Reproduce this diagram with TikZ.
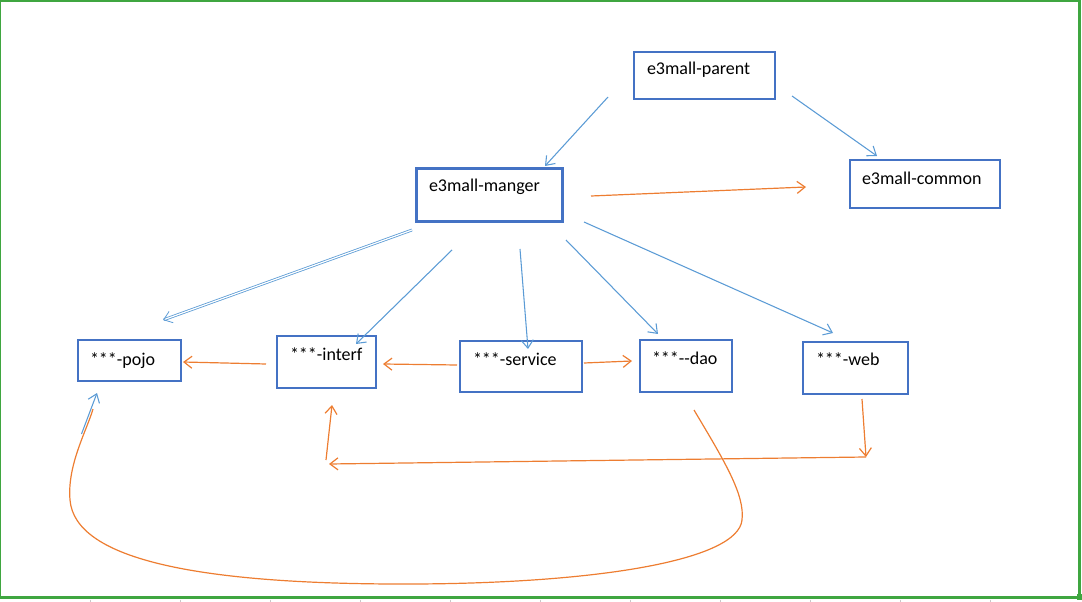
\documentclass[tikz,border=0pt]{standalone}
\usepackage{fontspec}
\setmainfont{Carlito}
\usetikzlibrary{arrows.meta,calc}
\definecolor{boxblue}{HTML}{4472C4}
\definecolor{lineblue}{HTML}{5B9BD5}
\definecolor{lineorange}{HTML}{ED7D31}
\definecolor{framegreen}{HTML}{3FA640}
\definecolor{tickgray}{HTML}{C8C8C8}
\begin{document}
\begin{tikzpicture}[x=0.75pt,y=-0.75pt,
  mod/.style={draw=boxblue, line width=1.5pt, outer sep=0pt, inner ysep=0pt,
    anchor=north west, align=left, font=\fontsize{13.5}{16}\selectfont},
  tip/.style={-{Straight Barb[length=6pt,width=9pt]}},
  bl/.style={draw=lineblue, line width=0.8pt, tip},
  og/.style={draw=lineorange, line width=0.9pt, tip},
  ogline/.style={draw=lineorange, line width=0.9pt}]
\useasboundingbox (0,0) rectangle (1082,602);
% frame
\draw[framegreen, line width=1.2pt] (0.5,598) -- (0.5,0.8) -- (1079,0.8);
\draw[framegreen, line width=2.4pt] (1079.5,0) -- (1079.5,597.5);
\draw[framegreen, line width=2.4pt] (0,597.5) -- (1080,597.5);
\fill[framegreen] (1077,594) rectangle (1082,600);
\foreach \t in {90,180,...,990} \draw[tickgray, line width=0.6pt] (\t,599.5) -- (\t,602);
% boxes
\node[mod, text width=86.25pt, inner xsep=9.75pt, text height=17.25pt, text depth=18pt] (par) at (634,52) {\mbox{e3mall-parent}};
\node[mod, line width=2.25pt, text width=90pt, inner xsep=9.75pt, text height=17.25pt, text depth=22.5pt] (man) at (416,169) {\mbox{e3mall-manger}};
\node[mod, text width=94.5pt, inner xsep=9pt, text height=18.75pt, text depth=17.25pt] (com) at (850,160) {\mbox{e3mall-common}};
\node[mod, text width=59.25pt, inner xsep=9pt, text height=18.75pt, text depth=12pt] (pojo) at (78,340) {\mbox{***-pojo}};
\node[mod, text width=54.75pt, inner xsep=9.75pt, text height=18.75pt, text depth=20.25pt] (intf) at (277,336) {\mbox{***-interf}};
\node[mod, text width=72pt, inner xsep=9.75pt, text height=18pt, text depth=20.25pt] (serv) at (460,341) {\mbox{***-service}};
\node[mod, text width=51pt, inner xsep=9pt, text height=18pt, text depth=21pt] (dao) at (640,340) {\mbox{***-{}-dao}};
\node[mod, text width=59.25pt, inner xsep=9.75pt, text height=17.25pt, text depth=21.75pt] (web) at (803,342) {\mbox{***-web}};
% orange connectors
\draw[og] ([shift={(29,0.5)}]man.east) -- ([shift={(-44,3)}]com.west);
\draw[og] ([shift={(-11,2)}]intf.west) -- ([shift={(2,1.5)}]pojo.east);
\draw[og] ([shift={(-3,-1.5)}]serv.west) -- ([shift={(7,2)}]intf.east);
\draw[og] ([shift={(2,-3.5)}]serv.east) -- ([shift={(-8,-5)}]dao.west);
\coordinate (c1) at (866,457);
\coordinate (c2) at (329,464);
\coordinate (c3) at (326,460);
\draw[og] ([shift={(6.5,5)}]web.south) -- (c1);
\draw[og] (c1) -- (c2);
\draw[og] (c3) -- ([shift={(5.5,17)}]intf.south);
\draw[ogline] ([shift={(8,18)}]dao.south)
  .. controls (725,462) and (745,495) .. (742,520)
  .. controls (738,560) and (600,583) .. (416,584)
  .. controls (200,585) and (75,560) .. (70,500)
  .. controls (67,465) and (87,430) .. ([shift={(-36.5,28)}]pojo.south);
% blue connectors
\draw[bl] ([shift={(-26,-2)}]par.south west) -- ([shift={(-17,-3)}]man.north east);
\draw[bl] ([shift={(17,-3)}]par.south east) -- ([shift={(27,-4)}]com.north west);
\draw[draw=lineblue, line width=0.6pt, double=white, double distance=0.9pt, tip]
  ([shift={(-4,8)}]man.south west) -- ([shift={(33.5,-20)}]pojo.north);
\draw[bl] ([shift={(36,28)}]man.south west) -- ([shift={(-20,8)}]intf.north east);
\draw[bl] ([shift={(31,27)}]man.south) -- ([shift={(7,8)}]serv.north);
\draw[bl] ([shift={(4,18)}]man.south east) -- ([shift={(18,-6)}]dao.north west);
\draw[bl] ([shift={(22,0)}]man.south east) -- ([shift={(-22.5,-9)}]web.north);
\draw[bl] ([shift={(-48,53)}]pojo.south) -- ([shift={(-32.5,12)}]pojo.south);
\end{tikzpicture}
\end{document}
